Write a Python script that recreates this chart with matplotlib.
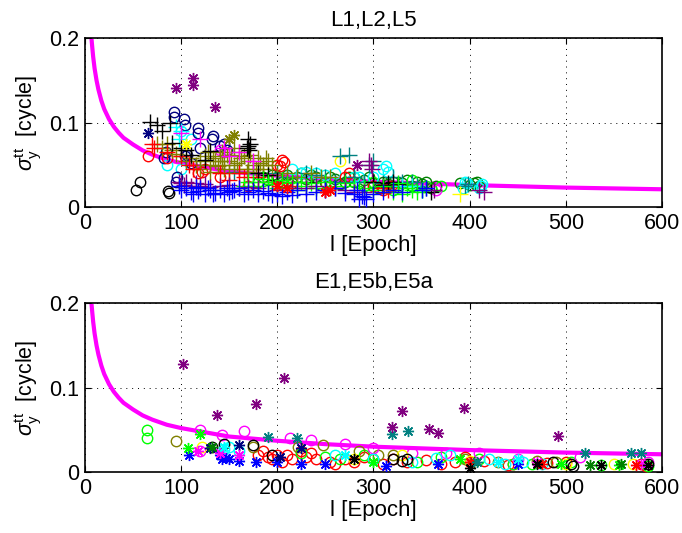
import matplotlib
matplotlib.use("Agg")
import matplotlib.pyplot as plt

plt.rcParams['font.family'] = ['Liberation Sans', 'DejaVu Sans']
plt.rcParams['mathtext.fontset'] = 'custom'
plt.rcParams['mathtext.rm'] = 'Liberation Sans'
plt.rcParams['mathtext.it'] = 'Liberation Sans:italic'

# MATLAB-style colours
C_B = (0, 0, 1)
C_G = (0, 1, 0)
C_R = (1, 0, 0)
C_C = (0, 1, 1)
C_M = (1, 0, 1)
C_Y = (1, 1, 0)
C_K = (0, 0, 0)
C_NAVY = (0, 0, 0.5)
C_DGREEN = (0, 0.5, 0)
C_PURPLE = (0.5, 0, 0.5)
C_TEAL = (0, 0.5, 0.5)
C_OLIVE = (0.5, 0.5, 0)

# Reference noise curve sigma(l)
curve_l = [6.8, 7.5, 8.5, 10, 12, 14, 17, 20, 25, 30, 35, 40, 50, 60, 70, 85, 100, 125, 150,
           200, 250, 300, 350, 400, 500, 600]
curve_sigma = [0.199, 0.190, 0.178, 0.164, 0.150, 0.139, 0.126, 0.116, 0.104, 0.095, 0.088,
               0.082, 0.074, 0.067, 0.062, 0.056, 0.052, 0.047, 0.042, 0.037, 0.033, 0.030,
               0.028, 0.026, 0.023, 0.021]

# ---- GPS L1, L2, L5 ----
gps_navy_o_l = [93, 93, 103, 104, 118, 118, 133, 132, 145, 140, 84, 82, 104, 96, 95, 120, 106, 110, 148]
gps_navy_o_s = [0.113, 0.107, 0.104, 0.097, 0.093, 0.088, 0.084, 0.080, 0.075, 0.072, 0.065, 0.058,
                0.060, 0.035, 0.030, 0.070, 0.062, 0.052, 0.068]
gps_black_o_l = [53, 57, 87, 86]
gps_black_o_s = [0.020, 0.030, 0.017, 0.019]
gps_black_p_l = [68, 75, 80, 88, 90, 100, 105, 110, 125, 170, 170, 172, 168, 171, 130, 300, 315,
                 320, 310, 325, 360, 180, 190, 200, 230, 310]
gps_black_p_s = [0.101, 0.097, 0.090, 0.100, 0.076, 0.070, 0.068, 0.062, 0.056, 0.080, 0.072,
                 0.075, 0.070, 0.068, 0.066, 0.030, 0.028, 0.030, 0.026, 0.027, 0.018, 0.040,
                 0.038, 0.032, 0.030, 0.025]
gps_purple_s_l = [95, 112, 112, 135, 283]
gps_purple_s_s = [0.141, 0.153, 0.145, 0.118, 0.050]
gps_purple_p_l = [295, 297, 298, 100, 110, 105, 140, 160, 250, 270, 280, 363, 410, 415, 120, 230,
                  98, 103, 115, 125, 130, 150, 170, 180, 200, 215, 240, 260, 290]
gps_purple_p_s = [0.055, 0.050, 0.045, 0.028, 0.025, 0.030, 0.025, 0.022, 0.020, 0.020, 0.018,
                  0.020, 0.020, 0.018, 0.025, 0.022, 0.030, 0.026, 0.028, 0.027, 0.024, 0.026,
                  0.024, 0.022, 0.020, 0.022, 0.025, 0.022, 0.018]
gps_navy_s_l = [66]
gps_navy_s_s = [0.088]
gps_red_o_l = [66, 118, 125, 122, 205, 207, 200, 203, 300, 309, 310, 315, 318, 140, 170, 270,
               275, 85]
gps_red_o_s = [0.060, 0.040, 0.045, 0.042, 0.056, 0.053, 0.050, 0.048, 0.025, 0.022, 0.020,
               0.022, 0.025, 0.035, 0.025, 0.035, 0.040, 0.058]
gps_red_p_l = [70, 72, 100, 108, 112, 140, 160, 165, 180, 150, 195, 205, 210, 215, 310, 315, 85]
gps_red_p_s = [0.075, 0.070, 0.060, 0.050, 0.045, 0.040, 0.040, 0.035, 0.035, 0.032, 0.030,
               0.028, 0.030, 0.025, 0.022, 0.020, 0.065]
gps_red_s_l = [250, 255, 200, 210]
gps_red_s_s = [0.018, 0.020, 0.025, 0.022]
gps_olive_p_l = [75, 80, 85, 90, 95, 100, 105, 110, 115, 120, 125, 128, 130, 133, 135, 140, 142,
                 143, 145, 150, 152, 155, 155, 160, 162, 165, 170, 172, 175, 178, 180, 182, 185,
                 185, 188, 190, 195, 145, 150, 160, 170, 200, 210, 220, 235, 245, 255, 120, 130,
                 138, 148, 158, 168]
gps_olive_p_s = [0.075, 0.070, 0.075, 0.068, 0.063, 0.060, 0.055, 0.058, 0.050, 0.055, 0.060,
                 0.065, 0.050, 0.058, 0.055, 0.060, 0.065, 0.055, 0.050, 0.055, 0.062, 0.070,
                 0.050, 0.065, 0.058, 0.060, 0.055, 0.062, 0.050, 0.045, 0.058, 0.052, 0.050,
                 0.045, 0.058, 0.055, 0.050, 0.045, 0.040, 0.045, 0.045, 0.038, 0.040, 0.035,
                 0.040, 0.035, 0.035, 0.045, 0.042, 0.048, 0.062, 0.052, 0.042]
gps_olive_s_l = [155, 150]
gps_olive_s_s = [0.085, 0.080]
gps_cyan_o_l = [100, 110, 85, 100, 215, 225, 230, 240, 260, 285, 300, 310, 313, 315, 393, 395,
                397, 410, 412, 413, 250, 280]
gps_cyan_o_s = [0.090, 0.080, 0.050, 0.045, 0.045, 0.040, 0.042, 0.040, 0.040, 0.036, 0.035,
                0.045, 0.048, 0.042, 0.022, 0.030, 0.028, 0.022, 0.025, 0.027, 0.038, 0.036]
gps_cyan_p_l = [95, 100, 98, 330, 340, 350]
gps_cyan_p_s = [0.095, 0.090, 0.080, 0.025, 0.025, 0.020]
gps_mag_p_l = [120, 145, 160, 100, 150, 175]
gps_mag_p_s = [0.080, 0.070, 0.065, 0.088, 0.060, 0.055]
gps_mag_o_l = [140, 145, 365]
gps_mag_o_s = [0.068, 0.065, 0.020]
gps_yel_s_l = [105]
gps_yel_s_s = [0.075]
gps_yel_o_l = [265]
gps_yel_o_s = [0.055]
gps_yel_p_l = [390]
gps_yel_p_s = [0.015]
gps_teal_p_l = [265, 275, 300, 295, 320, 330, 340, 395, 398, 155, 175, 220, 240, 260, 200, 210,
                230, 250, 270, 280, 290, 310, 345, 355, 200]
gps_teal_p_s = [0.060, 0.062, 0.055, 0.050, 0.035, 0.030, 0.030, 0.025, 0.027, 0.042, 0.040,
                0.035, 0.038, 0.030, 0.040, 0.035, 0.040, 0.035, 0.030, 0.035, 0.030, 0.028,
                0.025, 0.022, 0.030]
gps_dgreen_o_l = [200, 210, 220, 230, 240, 250, 260, 270, 280, 290, 300, 310, 320, 330, 340,
                  350, 360, 390, 405, 410, 180, 190, 215, 245, 265, 305, 325, 345, 205, 225,
                  235, 255, 275, 285, 295, 315, 335, 355, 365, 195, 185, 400, 408]
gps_dgreen_o_s = [0.035, 0.038, 0.035, 0.033, 0.035, 0.030, 0.033, 0.030, 0.030, 0.032, 0.028,
                  0.030, 0.030, 0.028, 0.025, 0.027, 0.022, 0.028, 0.028, 0.025, 0.030, 0.032,
                  0.028, 0.026, 0.027, 0.022, 0.024, 0.030, 0.030, 0.040, 0.038, 0.036, 0.036,
                  0.028, 0.035, 0.027, 0.032, 0.030, 0.025, 0.038, 0.035, 0.026, 0.030]
gps_green_p_l = [170, 180, 190, 200, 210, 220, 230, 240, 260, 300, 320, 330, 340, 195, 215,
                 165, 175, 185, 205, 225, 235, 250, 255, 270, 280, 290, 310, 325, 335, 345, 350]
gps_green_p_s = [0.030, 0.025, 0.030, 0.022, 0.028, 0.020, 0.025, 0.022, 0.025, 0.020, 0.018,
                 0.015, 0.020, 0.027, 0.030, 0.025, 0.030, 0.033, 0.032, 0.030, 0.028, 0.030,
                 0.022, 0.028, 0.025, 0.022, 0.025, 0.028, 0.022, 0.018, 0.020]
gps_green_o_l = [280, 300, 340, 355, 370, 290, 320]
gps_green_o_s = [0.035, 0.030, 0.032, 0.025, 0.025, 0.025, 0.020]
gps_blue_p_l = [100, 110, 120, 125, 130, 140, 150, 160, 170, 180, 190, 200, 205, 220, 240, 260,
                280, 285, 288, 290, 320, 350, 310, 115, 135, 155, 98, 105, 112, 118, 128, 133,
                145, 148, 153, 165, 175, 185, 195, 210, 215, 230, 250, 270, 283, 292, 300, 330,
                355]
gps_blue_p_s = [0.020, 0.018, 0.022, 0.015, 0.020, 0.020, 0.018, 0.022, 0.018, 0.015, 0.017,
                0.015, 0.013, 0.020, 0.018, 0.022, 0.015, 0.010, 0.013, 0.012, 0.020, 0.020,
                0.018, 0.024, 0.017, 0.020, 0.025, 0.022, 0.016, 0.019, 0.023, 0.016, 0.015,
                0.022, 0.019, 0.016, 0.020, 0.019, 0.014, 0.018, 0.014, 0.016, 0.020, 0.017,
                0.020, 0.009, 0.016, 0.018, 0.022]

# ---- Galileo E1, E5b, E5a ----
gal_purple_s_l = [102, 207, 178, 137, 319, 330, 358, 367, 394, 492]
gal_purple_s_s = [0.128, 0.111, 0.081, 0.067, 0.053, 0.072, 0.051, 0.046, 0.076, 0.043]
gal_teal_s_l = [190, 220, 319, 336, 520, 568, 578, 408]
gal_teal_s_s = [0.042, 0.040, 0.045, 0.048, 0.022, 0.023, 0.023, 0.012]
gal_green_o_l = [65, 65, 225, 250, 265, 290, 300, 345, 370, 410, 445, 465, 505, 537, 585]
gal_green_o_s = [0.050, 0.040, 0.022, 0.018, 0.015, 0.020, 0.015, 0.012, 0.018, 0.015, 0.010,
                 0.010, 0.012, 0.008, 0.007]
gal_olive_o_l = [95, 175, 222, 248, 285, 305, 320, 395, 430, 470, 490]
gal_olive_o_s = [0.037, 0.030, 0.030, 0.032, 0.025, 0.020, 0.020, 0.015, 0.012, 0.013, 0.012]
gal_mag_o_l = [120, 143, 165, 213, 235, 270, 300, 340, 375, 410, 450, 515, 585, 120]
gal_mag_o_s = [0.050, 0.044, 0.048, 0.040, 0.038, 0.033, 0.028, 0.022, 0.022, 0.022, 0.015,
               0.018, 0.012, 0.025]
gal_green_s_l = [107, 120, 300, 390, 495, 555]
gal_green_s_s = [0.028, 0.045, 0.012, 0.015, 0.010, 0.008]
gal_blue_s_l = [108, 143, 147, 150, 160, 178, 200, 225, 250, 313, 367, 450, 140]
gal_blue_s_s = [0.020, 0.015, 0.017, 0.015, 0.013, 0.012, 0.012, 0.010, 0.010, 0.007, 0.010,
                0.010, 0.020]
gal_cyan_o_l = [145, 150, 160, 260, 300, 340, 365, 380, 420, 437, 455, 475]
gal_cyan_o_s = [0.027, 0.030, 0.025, 0.020, 0.016, 0.012, 0.017, 0.020, 0.015, 0.010, 0.012, 0.010]
gal_yel_o_l = [122, 280, 330, 400, 500, 550, 570]
gal_yel_o_s = [0.030, 0.015, 0.020, 0.013, 0.010, 0.010, 0.010]
gal_red_o_l = [180, 185, 190, 195, 200, 205, 210, 215, 225, 230, 235, 240, 255, 260, 270, 280,
               290, 300, 310, 320, 335, 355, 370, 385, 395, 400, 415, 440, 445, 480, 500, 583, 578]
gal_red_o_s = [0.020, 0.025, 0.018, 0.015, 0.020, 0.012, 0.020, 0.015, 0.025, 0.018, 0.022,
               0.015, 0.012, 0.010, 0.015, 0.012, 0.018, 0.015, 0.010, 0.016, 0.012, 0.014,
               0.010, 0.012, 0.018, 0.012, 0.013, 0.008, 0.010, 0.011, 0.012, 0.007, 0.010]
gal_black_o_l = [132, 145, 175, 195, 320, 330, 335, 487, 505, 508, 585]
gal_black_o_s = [0.030, 0.033, 0.032, 0.020, 0.015, 0.013, 0.015, 0.012, 0.010, 0.007, 0.010]
gal_black_s_l = [280, 400, 470, 537, 585]
gal_black_s_s = [0.015, 0.005, 0.010, 0.008, 0.008]
gal_navy_s_l = [130, 160, 203, 225]
gal_navy_s_s = [0.028, 0.032, 0.018, 0.028]
gal_mag_s_l = [118, 140, 160, 470, 578]
gal_mag_s_s = [0.025, 0.022, 0.020, 0.012, 0.010]
gal_cyan_s_l = [145, 270, 430, 450]
gal_cyan_s_s = [0.030, 0.020, 0.012, 0.015]
gal_dgreen_s_l = [132, 405, 525, 557]
gal_dgreen_s_s = [0.030, 0.012, 0.008, 0.009]
gal_red_s_l = [400, 475, 573]
gal_red_s_s = [0.012, 0.010, 0.008]

STAR = (8, 2, 0)

gps_groups = [
    (gps_dgreen_o_l, gps_dgreen_o_s, C_DGREEN, 'o'),
    (gps_green_o_l, gps_green_o_s, C_G, 'o'),
    (gps_cyan_o_l, gps_cyan_o_s, C_C, 'o'),
    (gps_navy_o_l, gps_navy_o_s, C_NAVY, 'o'),
    (gps_black_o_l, gps_black_o_s, C_K, 'o'),
    (gps_red_o_l, gps_red_o_s, C_R, 'o'),
    (gps_mag_o_l, gps_mag_o_s, C_M, 'o'),
    (gps_yel_o_l, gps_yel_o_s, C_Y, 'o'),
    (gps_teal_p_l, gps_teal_p_s, C_TEAL, '+'),
    (gps_olive_p_l, gps_olive_p_s, C_OLIVE, '+'),
    (gps_red_p_l, gps_red_p_s, C_R, '+'),
    (gps_cyan_p_l, gps_cyan_p_s, C_C, '+'),
    (gps_mag_p_l, gps_mag_p_s, C_M, '+'),
    (gps_black_p_l, gps_black_p_s, C_K, '+'),
    (gps_green_p_l, gps_green_p_s, C_G, '+'),
    (gps_purple_p_l, gps_purple_p_s, C_PURPLE, '+'),
    (gps_yel_p_l, gps_yel_p_s, C_Y, '+'),
    (gps_blue_p_l, gps_blue_p_s, C_B, '+'),
    (gps_purple_s_l, gps_purple_s_s, C_PURPLE, STAR),
    (gps_navy_s_l, gps_navy_s_s, C_NAVY, STAR),
    (gps_red_s_l, gps_red_s_s, C_R, STAR),
    (gps_olive_s_l, gps_olive_s_s, C_OLIVE, STAR),
    (gps_yel_s_l, gps_yel_s_s, C_Y, STAR),
]

gal_groups = [
    (gal_red_o_l, gal_red_o_s, C_R, 'o'),
    (gal_green_o_l, gal_green_o_s, C_G, 'o'),
    (gal_olive_o_l, gal_olive_o_s, C_OLIVE, 'o'),
    (gal_mag_o_l, gal_mag_o_s, C_M, 'o'),
    (gal_cyan_o_l, gal_cyan_o_s, C_C, 'o'),
    (gal_yel_o_l, gal_yel_o_s, C_Y, 'o'),
    (gal_black_o_l, gal_black_o_s, C_K, 'o'),
    (gal_blue_s_l, gal_blue_s_s, C_B, STAR),
    (gal_green_s_l, gal_green_s_s, C_G, STAR),
    (gal_navy_s_l, gal_navy_s_s, C_NAVY, STAR),
    (gal_mag_s_l, gal_mag_s_s, C_M, STAR),
    (gal_cyan_s_l, gal_cyan_s_s, C_C, STAR),
    (gal_dgreen_s_l, gal_dgreen_s_s, C_DGREEN, STAR),
    (gal_red_s_l, gal_red_s_s, C_R, STAR),
    (gal_black_s_l, gal_black_s_s, C_K, STAR),
    (gal_teal_s_l, gal_teal_s_s, C_TEAL, STAR),
    (gal_purple_s_l, gal_purple_s_s, C_PURPLE, STAR),
]

fig = plt.figure(figsize=(6.82, 5.33), dpi=100)
ax_top = fig.add_axes([0.1246, 0.6116, 0.846, 0.317])
ax_bot = fig.add_axes([0.1246, 0.1144, 0.846, 0.317])


def style_axes(ax, title, title_pad):
    ax.set_xlim(0, 600)
    ax.set_ylim(0, 0.2)
    ax.set_xticks([0, 100, 200, 300, 400, 500, 600])
    ax.set_yticks([0, 0.1, 0.2])
    ax.set_yticklabels(['0', '0.1', '0.2'])
    ax.grid(True, color='black', linestyle=(0, (1, 5)), linewidth=0.7)
    ax.tick_params(direction='in', length=4, labelsize=15.5, top=True, right=True, pad=4)
    for sp in ax.spines.values():
        sp.set_linewidth(1.2)
    ax.set_title(title, fontsize=16, pad=title_pad)
    ax.set_xlabel('l [Epoch]', fontsize=16, labelpad=1)
    ax.set_ylabel(r'$\sigma_{\mathrm{y}}^{\mathrm{tt}}$  [cycle]', fontsize=15.5, labelpad=4)


def draw(ax, groups):
    ax.plot(curve_l, curve_sigma, color=C_M, linewidth=3, zorder=2, solid_capstyle='butt')
    for l, s, col, mk in groups:
        size = 7.5 if mk == 'o' else (11 if mk == '+' else 8)
        ax.plot(l, s, linestyle='none', marker=mk, markersize=size,
                markerfacecolor='none', markeredgecolor=col,
                markeredgewidth=1.0, zorder=3, clip_on=True)


draw(ax_top, gps_groups)
style_axes(ax_top, 'L1,L2,L5', 9)
draw(ax_bot, gal_groups)
style_axes(ax_bot, 'E1,E5b,E5a', 11)

fig.savefig('out.png', dpi=100)
